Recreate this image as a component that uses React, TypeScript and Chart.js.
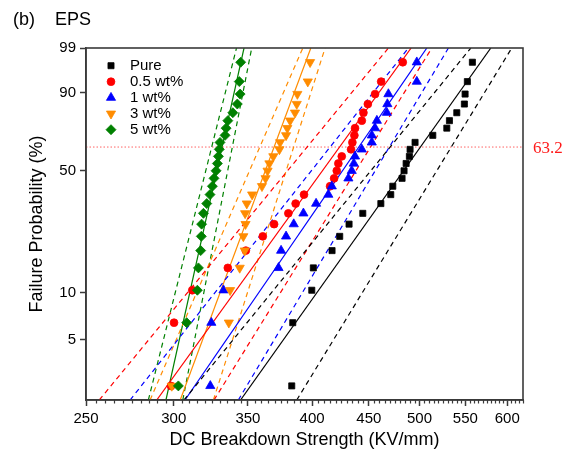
import React, { useEffect, useRef } from 'react';
import { Chart, registerables } from 'chart.js';
import { drawPoint } from 'chart.js/helpers';

Chart.register(...registerables);

// ---------------- data ----------------
// failure probability (%) of the i-th ranked sample (25 samples per series)
const failureProb = [2.48, 6.44, 10.4, 14.36, 18.32, 22.28, 26.24, 30.2, 34.16, 38.12, 42.08, 46.04, 50.0, 53.96, 57.92, 61.88, 65.84, 69.8, 73.76, 77.72, 81.68, 85.64, 89.6, 93.56, 97.52];

// breakdown strength (kV/mm) for each ranked sample
const pureStrength = [383.4, 384.2, 399.7, 401.0, 416.9, 423.6, 431.9, 444.4, 461.4, 471.0, 473.0, 482.2, 484.2, 486.3, 489.6, 490.3, 495.4, 514.0, 529.2, 532.1, 540.3, 548.9, 549.7, 552.3, 558.1];
const wt05Strength = [298.3, 300.2, 311.8, 335.7, 348.5, 361.0, 369.6, 380.7, 386.5, 393.3, 415.2, 418.7, 421.0, 422.4, 425.4, 433.7, 434.9, 436.7, 437.3, 443.5, 445.0, 449.1, 455.9, 461.7, 482.9];
const wt1Strength = [323.7, 324.4, 332.7, 373.0, 375.0, 378.9, 385.0, 392.8, 403.3, 413.7, 416.7, 431.3, 434.3, 436.2, 437.3, 443.5, 452.8, 452.8, 455.9, 457.6, 467.2, 467.7, 468.7, 497.2, 497.2];
const wt3Strength = [298.8, 336.4, 337.3, 344.1, 347.7, 346.7, 348.3, 348.0, 349.2, 353.1, 360.4, 363.1, 364.6, 366.0, 369.0, 373.7, 374.2, 378.9, 379.9, 382.1, 386.0, 387.4, 387.9, 396.4, 398.3];
const wt5Strength = [302.9, 308.2, 315.1, 315.8, 317.3, 317.7, 317.9, 319.1, 321.3, 323.5, 325.1, 326.2, 327.6, 328.5, 329.2, 329.8, 330.3, 333.8, 334.5, 335.7, 339.2, 342.4, 344.4, 343.8, 344.8];

// Weibull fit lines and confidence bounds: strength at lineProb[0] and lineProb[1]
const lineProb = [2, 99];
const pureFit = [344.7, 579.9];
const pureLower = [306.5, 556.3];
const pureUpper = [387.4, 605.7];
const wt05Fit = [289.6, 491.4];
const wt05Lower = [257.0, 468.7];
const wt05Upper = [326.2, 513.0];
const wt1Fit = [307.1, 507.7];
const wt1Lower = [274.0, 488.6];
const wt1Upper = [343.1, 531.0];
const wt3Fit = [304.1, 398.9];
const wt3Lower = [285.6, 392.3];
const wt3Upper = [325.8, 410.9];
const wt5Fit = [295.2, 347.2];
const wt5Lower = [284.6, 341.8];
const wt5Upper = [305.7, 352.8];

const refProb = 63.2;
const xRange = [250, 620];
const yRange = [2, 99];
const xTickLabels = [250, 300, 350, 400, 450, 500, 550, 600];
const xMinorStep = 5;
const yTickLabels = [5, 10, 50, 90, 99];

const seriesLabels = ['Pure', '0.5 wt%', '1 wt%', '3 wt%', '5 wt%'];
// --------------------------------------

const SANS = "'Liberation Sans', Arial, sans-serif";
const SERIF = "'Liberation Serif', 'Times New Roman', serif";
const AXIS = '#3a3a3a';

const weib = (p: number) => Math.log(-Math.log(1 - p / 100));

const seriesDefs = [
  { strength: pureStrength, fit: pureFit, lo: pureLower, hi: pureUpper, color: '#000000', style: 'rect', radius: 4.3, rotation: 0 },
  { strength: wt05Strength, fit: wt05Fit, lo: wt05Lower, hi: wt05Upper, color: '#ff0000', style: 'circle', radius: 3.9, rotation: 0 },
  { strength: wt1Strength, fit: wt1Fit, lo: wt1Lower, hi: wt1Upper, color: '#0000ff', style: 'triangle', radius: 5.3, rotation: 0 },
  { strength: wt3Strength, fit: wt3Fit, lo: wt3Lower, hi: wt3Upper, color: '#ff8c00', style: 'triangle', radius: 5.3, rotation: 180 },
  { strength: wt5Strength, fit: wt5Fit, lo: wt5Lower, hi: wt5Upper, color: '#008000', style: 'rectRot', radius: 5, rotation: 0 },
];

function buildDatasets() {
  const ds: any[] = [];
  seriesDefs.forEach((s, k) => {
    ds.push({
      type: 'scatter',
      label: seriesLabels[k],
      data: s.strength.map((x, i) => ({ x, y: weib(failureProb[i]) })),
      pointStyle: s.style,
      pointRadius: s.radius,
      pointRotation: s.rotation,
      backgroundColor: s.color,
      borderColor: s.color,
      borderWidth: 0.8,
      showLine: false,
      order: 5 - k, // later series drawn on top
    });
  });
  seriesDefs.forEach((s, k) => {
    const mk = (arr: number[], dashed: boolean) => ({
      type: 'scatter',
      label: seriesLabels[k] + (dashed ? ' bound' : ' fit'),
      data: arr.map((x, i) => ({ x, y: weib(lineProb[i]) })),
      showLine: true,
      borderColor: s.color,
      backgroundColor: s.color,
      borderWidth: 1.2,
      borderDash: dashed ? [5, 4] : [],
      pointRadius: 0,
      order: 10,
    });
    ds.push(mk(s.fit, false));
    ds.push(mk(s.lo, true));
    ds.push(mk(s.hi, true));
  });
  ds.push({
    type: 'scatter',
    label: 'ref',
    data: xRange.map((x) => ({ x, y: weib(refProb) })),
    showLine: true,
    borderColor: 'rgba(255,70,70,0.85)',
    borderWidth: 1,
    borderDash: [1.5, 2],
    pointRadius: 0,
    order: 11,
  });
  return ds;
}

const extrasPlugin = {
  id: 'extras',
  afterDatasetsDraw(chart: any) {
    const { ctx, chartArea } = chart;
    ctx.save();
    ctx.strokeStyle = AXIS;
    ctx.lineWidth = 1.6;
    ctx.strokeRect(chartArea.left, chartArea.top, chartArea.right - chartArea.left, chartArea.bottom - chartArea.top);
    ctx.restore();
  },
  afterDraw(chart: any) {
    const { ctx, chartArea, scales } = chart;
    ctx.save();
    // minor ticks on x axis
    ctx.strokeStyle = AXIS;
    ctx.lineWidth = 1.2;
    for (let v = xRange[0] + xMinorStep; v <= xRange[1]; v += xMinorStep) {
      if (xTickLabels.includes(v)) continue;
      const px = Math.round(scales.x.getPixelForValue(v)) + 0.5;
      ctx.beginPath();
      ctx.moveTo(px, chartArea.bottom);
      ctx.lineTo(px, chartArea.bottom + 3.5);
      ctx.stroke();
    }
    // legend
    ctx.textAlign = 'left';
    ctx.textBaseline = 'middle';
    ctx.font = `15px ${SANS}`;
    seriesDefs.forEach((s, k) => {
      const y = 65.7 + k * 16;
      ctx.fillStyle = s.color;
      ctx.strokeStyle = s.color;
      ctx.lineWidth = 0.8;
      drawPoint(ctx, { pointStyle: s.style, radius: s.radius, rotation: s.rotation, borderWidth: 0.8 } as any, 111, y);
      ctx.fillStyle = '#000';
      ctx.fillText(seriesLabels[k], 130, y + 0.5);
    });
    // 63.2 label
    ctx.fillStyle = '#ff1a1a';
    ctx.font = `17px ${SERIF}`;
    ctx.fillText(String(refProb), chartArea.right + 10, scales.y.getPixelForValue(weib(refProb)) + 1);
    // panel title
    ctx.fillStyle = '#000';
    ctx.font = `18px ${SANS}`;
    ctx.fillText('(b)', 13, 20);
    ctx.fillText('EPS', 55, 20);
    ctx.restore();
  },
};

export default function App() {
  const ref = useRef<HTMLCanvasElement>(null);
  useEffect(() => {
    const canvas = ref.current;
    if (!canvas) return;
    const chart = new Chart(canvas, {
      type: 'scatter',
      data: { datasets: buildDatasets() },
      options: {
        responsive: false,
        animation: false,
        devicePixelRatio: 1,
        layout: { padding: { top: 48, right: 51, left: 0, bottom: 0 } },
        plugins: {
          legend: { display: false },
          tooltip: { enabled: false },
          title: { display: false },
        },
        scales: {
          x: {
            type: 'logarithmic',
            position: 'bottom',
            min: xRange[0],
            max: xRange[1],
            bounds: 'data',
            afterBuildTicks: (s: any) => {
              s.ticks = xTickLabels.map((v) => ({ value: v }));
            },
            afterFit: (s: any) => {
              s.height = 50;
            },
            ticks: {
              autoSkip: false,
              maxRotation: 0,
              padding: 4,
              color: '#000',
              font: { family: SANS, size: 15 },
              callback: (_v: any, i: number) => String(xTickLabels[i]),
            },
            grid: { drawOnChartArea: false, drawTicks: true, tickLength: 6, tickWidth: 1.5, tickColor: AXIS },
            border: { display: true, color: AXIS, width: 1.6 },
            title: {
              display: true,
              text: 'DC Breakdown Strength (KV/mm)',
              color: '#000',
              font: { family: SANS, size: 18 },
              padding: { top: 0, bottom: -1 },
            },
          },
          y: {
            type: 'linear',
            min: weib(yRange[0]),
            max: weib(yRange[1]),
            bounds: 'data',
            afterBuildTicks: (s: any) => {
              s.ticks = yTickLabels.map((p) => ({ value: weib(p) }));
            },
            afterFit: (s: any) => {
              s.width = 86;
            },
            ticks: {
              autoSkip: false,
              padding: 4,
              color: '#000',
              font: { family: SANS, size: 15 },
              callback: (_v: any, i: number) => String(yTickLabels[i]),
            },
            grid: { drawOnChartArea: false, drawTicks: true, tickLength: 6, tickWidth: 1.5, tickColor: AXIS },
            border: { display: true, color: AXIS, width: 1.6 },
            title: {
              display: true,
              text: 'Failure Probability (%)',
              color: '#000',
              font: { family: SANS, size: 18 },
              padding: { top: 26, bottom: 0 },
            },
          },
        },
      } as any,
      plugins: [extrasPlugin],
    });
    return () => chart.destroy();
  }, []);
  return (
    <div style={{ position: 'fixed', left: 0, top: 0, width: 574, height: 450, background: '#fff' }}>
      <canvas ref={ref} width={574} height={450} style={{ display: 'block', width: 574, height: 450 }} />
    </div>
  );
}
